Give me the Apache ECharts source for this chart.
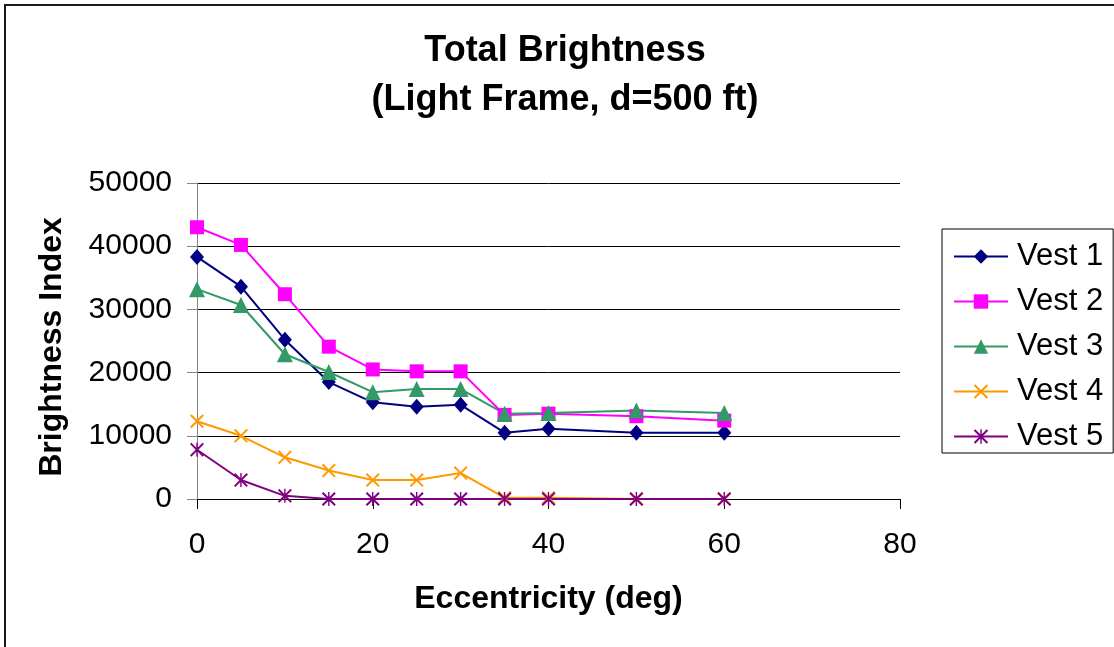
<!DOCTYPE html>
<html>
<head>
<meta charset="utf-8">
<title>Total Brightness</title>
<script src="https://cdn.jsdelivr.net/npm/echarts@6/dist/echarts.min.js"></script>
<style>
  html, body { margin: 0; padding: 0; background: #fff; }
  #chart { width: 1114px; height: 647px; }
</style>
</head>
<body>
<div id="chart"></div>
<script>
  // eccentricity (deg) on x
  var ecc = [0, 5, 10, 15, 20, 25, 30, 35, 40, 50, 60]

  // brightness index per vest
  var vest1 = [38300, 33600, 25200, 18500, 15300, 14600, 14900, 10500, 11100, 10500, 10500]
  var vest2 = [43000, 40200, 32400, 24100, 20500, 20200, 20200, 13300, 13500, 13100, 12400]
  var vest3 = [33200, 30700, 22900, 20100, 16900, 17400, 17400, 13500, 13600, 14000, 13600]
  var vest4 = [12300, 10000, 6600, 4500, 3000, 3000, 4100, 200, 200, 0, 0]
  var vest5 = [7800, 3000, 500, 0, 0, 0, 0, 0, 0, 0, 0]

  var names = ['Vest 1', 'Vest 2', 'Vest 3', 'Vest 4', 'Vest 5']

  var font = "'Liberation Sans', Arial, sans-serif"

  // filled X and asterisk shapes so legend and series look the same
  var xPath = 'path://M10,0 L50,40 L90,0 L100,10 L60,50 L100,90 L90,100 L50,60 L10,100 L0,90 L40,50 L0,10 Z'
  var starPath = 'path://M10,0 L50,40 L90,0 L100,10 L60,50 L100,90 L90,100 L50,60 L10,100 L0,90 L40,50 L0,10 Z M45,0 L55,0 L55,100 L45,100 Z'

  function pairs(vals) {
    var out = []
    for (var i = 0; i < ecc.length; i++) {
      out.push([ecc[i], vals[i]])
    }
    return out
  }

  function line(name, vals, color, symbol, size) {
    return {
      name: name,
      type: 'line',
      data: pairs(vals),
      symbol: symbol,
      symbolSize: size,
      showAllSymbol: true,
      lineStyle: { color: color, width: 2 },
      itemStyle: { color: color },
      emphasis: { disabled: true }
    }
  }

  var myChart = echarts.init(document.getElementById('chart'))

  var option = {
    animation: false,
    backgroundColor: '#fff',
    textStyle: { fontFamily: font, color: '#000' },

    title: {
      text: 'Total Brightness\n(Light Frame, d=500 ft)',
      left: 565,
      top: 27,
      padding: 0,
      textAlign: 'center',
      textStyle: {
        fontFamily: font,
        fontSize: 36,
        fontWeight: 'bold',
        lineHeight: 49,
        color: '#000'
      }
    },

    graphic: [{
      type: 'rect',
      silent: true,
      shape: { x: 5, y: 5, width: 1200, height: 700 },
      style: { fill: 'none', stroke: '#1a1a1a', lineWidth: 2 }
    }],

    legend: {
      data: names,
      orient: 'vertical',
      left: 942,
      top: 229,
      padding: [12, 10, 1, 11],
      itemWidth: 54,
      itemHeight: 18,
      itemGap: 14,
      borderColor: '#000',
      borderWidth: 1,
      selectedMode: false,
      textStyle: {
        fontFamily: font,
        fontSize: 31,
        lineHeight: 30,
        color: '#000',
        padding: [0, 0, 0, 4]
      }
    },

    grid: {
      left: 197,
      right: 214,
      top: 183,
      bottom: 148,
      containLabel: false
    },

    xAxis: {
      type: 'value',
      min: 0,
      max: 80,
      interval: 20,
      name: 'Eccentricity (deg)',
      nameLocation: 'middle',
      nameGap: 84,
      nameTextStyle: { fontFamily: font, fontSize: 32, fontWeight: 'bold', color: '#000' },
      axisLine: { show: true, lineStyle: { color: '#000', width: 1 } },
      axisTick: { show: true, length: 10, lineStyle: { color: '#000' } },
      axisLabel: { fontFamily: font, fontSize: 30, color: '#000', margin: 31 },
      splitLine: { show: false }
    },

    yAxis: {
      type: 'value',
      min: 0,
      max: 50000,
      interval: 10000,
      name: 'Brightness Index',
      nameLocation: 'middle',
      nameGap: 129,
      nameTextStyle: {
        fontFamily: font,
        fontSize: 32,
        fontWeight: 'bold',
        color: '#000',
        padding: [0, 12, 0, 0]
      },
      axisLine: { show: true, lineStyle: { color: '#868686', width: 1 } },
      axisTick: { show: true, length: 10, lineStyle: { color: '#868686' } },
      axisLabel: {
        fontFamily: font,
        fontSize: 30,
        color: '#000',
        margin: 25,
        formatter: function (v) { return String(v) }
      },
      splitLine: { show: true, lineStyle: { color: '#000', width: 1 } }
    },

    series: [
      line(names[0], vest1, '#000080', 'diamond', [14, 16]),
      line(names[1], vest2, '#FF00FF', 'rect', 14),
      line(names[2], vest3, '#339966', 'triangle', 16),
      line(names[3], vest4, '#FF9900', xPath, 14),
      line(names[4], vest5, '#800080', starPath, 14)
    ]
  }

  myChart.setOption(option)
</script>
</body>
</html>
